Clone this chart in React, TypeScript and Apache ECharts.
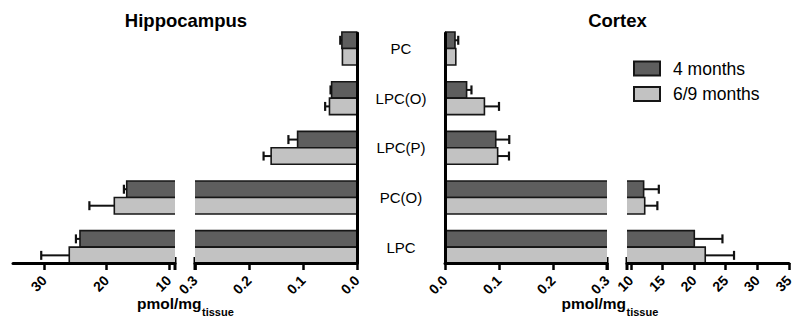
import React, { useEffect, useRef } from "react";
import * as echarts from "echarts";

// ---- data ----
const categories = ["PC", "LPC(O)", "LPC(P)", "PC(O)", "LPC"];
const seriesNames = ["4 months", "6/9 months"];
const panelTitles = ["Hippocampus", "Cortex"];

const hippo4 = [0.028, 0.047, 0.11, 16.75, 24.25];
const hippo4Err = [0.003, 0.002, 0.017, 0.45, 0.65];
const hippo69 = [0.027, 0.051, 0.159, 18.74, 25.97];
const hippo69Err = [0, 0.008, 0.014, 4.0, 4.5];

const cortex4 = [0.0185, 0.04, 0.094, 12.03, 20.04];
const cortex4Err = [0.006, 0.009, 0.025, 2.4, 4.45];
const cortex69 = [0.02, 0.073, 0.0975, 12.2, 21.77];
const cortex69Err = [0, 0.027, 0.021, 2.0, 4.55];

const nearTicks = [0, 0.1, 0.2, 0.3];
const hippoFarTicks = [10, 20, 30];
const cortexFarTicks = [10, 15, 20, 25, 30, 35];

// ---- styling / layout ----
const FONT = "'Liberation Sans', Arial, Helvetica, sans-serif";
const NEAR_MAX = 0.3;
const HIPPO_FAR_MIN = 9;
const CORTEX_FAR_MIN = 9.4;
const FAR_MAX = 35;
const Y_MIN = -0.3125;
const Y_MAX = 4.32;
const BAR_UNITS = 0.332;
const COLORS = ["#5e5e5e", "#c2c2c2"];
const EDGE = "#161616";
const GRID_TOP = 33;
const GRID_H = 230;

function renderBar(segMin: number, segMax: number, idx: number, color: string) {
  return (params: any, api: any) => {
    const val = api.value(0) as number;
    const cat = api.value(1) as number;
    const err = api.value(2) as number;
    const p0 = api.coord([segMin, cat]);
    const unit = api.size([0, 1])[1];
    const thick = unit * BAR_UNITS;
    const top = idx === 0 ? p0[1] - thick : p0[1];
    const bottom = top + thick;
    const clipped = val > segMax;
    const xa = p0[0];
    const xb = api.coord([Math.min(val, segMax), cat])[0];
    const children: any[] = [];
    children.push({
      type: "rect",
      shape: { x: Math.min(xa, xb), y: top, width: Math.abs(xb - xa), height: thick },
      style: { fill: color },
    });
    const stroke = { stroke: EDGE, lineWidth: 1.6, fill: null };
    if (clipped) {
      children.push({ type: "line", shape: { x1: xa, y1: top, x2: xb, y2: top }, style: stroke });
      children.push({ type: "line", shape: { x1: xa, y1: bottom, x2: xb, y2: bottom }, style: stroke });
    } else {
      children.push({
        type: "polyline",
        shape: { points: [[xa, top], [xb, top], [xb, bottom], [xa, bottom]] },
        style: stroke,
      });
      if (err > 0) {
        const xe = api.coord([val + err, cat])[0];
        const yc = (top + bottom) / 2;
        children.push({
          type: "line",
          shape: { x1: xb, y1: yc, x2: xe, y2: yc },
          style: { stroke: "#111", lineWidth: 2 },
        });
        children.push({
          type: "line",
          shape: { x1: xe, y1: yc - 4.5, x2: xe, y2: yc + 4.5 },
          style: { stroke: "#111", lineWidth: 2.2 },
        });
      }
    }
    return { type: "group", children };
  };
}

function seg(values: number[], errs: number[], near: boolean) {
  const out: any[] = [];
  values.forEach((v, i) => {
    if (near || v > NEAR_MAX) out.push([v, i, errs[i]]);
  });
  return out;
}

export default function App() {
  const ref = useRef<HTMLDivElement>(null);
  useEffect(() => {
    if (!ref.current) return;
    const chart = echarts.init(ref.current, null, { renderer: "svg" });

    const grids = [
      { left: 13, top: GRID_TOP, width: 162, height: GRID_H }, // hippo far
      { left: 195, top: GRID_TOP, width: 162, height: GRID_H }, // hippo near
      { left: 445, top: GRID_TOP, width: 162, height: GRID_H }, // cortex near
      { left: 627, top: GRID_TOP, width: 163, height: GRID_H }, // cortex far
    ];

    const axisLine = { onZero: false, lineStyle: { color: "#000", width: 3 } };
    const tickLabel = {
      rotate: 45,
      fontWeight: "bold" as const,
      fontSize: 14,
      color: "#000",
      fontFamily: FONT,
      margin: 15,
      hideOverlap: false,
    };
    const tick = { length: 7, lineStyle: { color: "#000", width: 2.5 } };

    const xAxes = [
      {
        gridIndex: 0, type: "value", min: HIPPO_FAR_MIN, max: FAR_MAX, inverse: true, z: 10,
        axisLine, splitLine: { show: false },
        axisTick: { ...tick, customValues: hippoFarTicks },
        axisLabel: { ...tickLabel, customValues: hippoFarTicks, formatter: (v: number) => String(v) },
      },
      {
        gridIndex: 1, type: "value", min: 0, max: NEAR_MAX, inverse: true, z: 10,
        axisLine, splitLine: { show: false },
        axisTick: { ...tick, customValues: nearTicks },
        axisLabel: { ...tickLabel, customValues: nearTicks, formatter: (v: number) => v.toFixed(1) },
      },
      {
        gridIndex: 2, type: "value", min: 0, max: NEAR_MAX, z: 10,
        axisLine, splitLine: { show: false },
        axisTick: { ...tick, customValues: nearTicks },
        axisLabel: { ...tickLabel, customValues: nearTicks, formatter: (v: number) => v.toFixed(1) },
      },
      {
        gridIndex: 3, type: "value", min: CORTEX_FAR_MIN, max: FAR_MAX, z: 10,
        axisLine, splitLine: { show: false },
        axisTick: { ...tick, customValues: cortexFarTicks },
        axisLabel: { ...tickLabel, customValues: cortexFarTicks, formatter: (v: number) => String(v) },
      },
    ];

    const catIdx = categories.map((_, i) => i);
    const yBase = { type: "value", min: Y_MIN, max: Y_MAX, inverse: true, splitLine: { show: false }, z: 10 };
    const yAxes = [
      { ...yBase, gridIndex: 0, show: false },
      {
        ...yBase, gridIndex: 1, position: "right",
        axisLine: { show: true, onZero: false, lineStyle: { color: "#000", width: 3 } },
        axisTick: { show: false },
        axisLabel: {
          customValues: catIdx,
          formatter: (v: number) => categories[Math.round(v)] ?? "",
          align: "center",
          margin: 44,
          fontSize: 15,
          color: "#000",
          fontFamily: FONT,
        },
      },
      {
        ...yBase, gridIndex: 2, position: "left",
        axisLine: { show: true, onZero: false, lineStyle: { color: "#000", width: 3 } },
        axisTick: { show: false },
        axisLabel: { show: false },
      },
      { ...yBase, gridIndex: 3, show: false },
    ];

    const panels = [
      { vals: [hippo4, hippo69], errs: [hippo4Err, hippo69Err], far: 0, near: 1, farMin: HIPPO_FAR_MIN },
      { vals: [cortex4, cortex69], errs: [cortex4Err, cortex69Err], far: 3, near: 2, farMin: CORTEX_FAR_MIN },
    ];
    const series: any[] = [];
    panels.forEach((p) => {
      [0, 1].forEach((k) => {
        series.push({
          type: "custom", name: seriesNames[k], xAxisIndex: p.near, yAxisIndex: p.near,
          encode: { x: 0, y: 1 }, itemStyle: { color: COLORS[k] }, z: 2,
          renderItem: renderBar(0, NEAR_MAX, k, COLORS[k]),
          data: seg(p.vals[k], p.errs[k], true),
        });
        series.push({
          type: "custom", name: seriesNames[k], xAxisIndex: p.far, yAxisIndex: p.far,
          encode: { x: 0, y: 1 }, itemStyle: { color: COLORS[k] }, z: 2,
          renderItem: renderBar(p.farMin, FAR_MAX, k, COLORS[k]),
          data: seg(p.vals[k], p.errs[k], false),
        });
      });
    });

    const texts: any[] = [
      { type: "text", x: 186, y: 20, style: { text: panelTitles[0], font: `bold 18.5px ${FONT}`, fill: "#000", align: "center", verticalAlign: "middle" } },
      { type: "text", x: 617.5, y: 20, style: { text: panelTitles[1], font: `bold 18.5px ${FONT}`, fill: "#000", align: "center", verticalAlign: "middle" } },
      { type: "text", x: 137, y: 303, style: { text: "pmol/mg", font: `bold 15.5px ${FONT}`, fill: "#000", align: "left", verticalAlign: "middle" } },
      { type: "text", x: 202, y: 312, style: { text: "tissue", font: `bold 11px ${FONT}`, fill: "#000", align: "left", verticalAlign: "middle" } },
      { type: "text", x: 561.5, y: 303, style: { text: "pmol/mg", font: `bold 15.5px ${FONT}`, fill: "#000", align: "left", verticalAlign: "middle" } },
      { type: "text", x: 626.5, y: 312, style: { text: "tissue", font: `bold 11px ${FONT}`, fill: "#000", align: "left", verticalAlign: "middle" } },
    ];

    chart.setOption({
      animation: false,
      textStyle: { fontFamily: FONT },
      grid: grids,
      xAxis: xAxes,
      yAxis: yAxes,
      legend: {
        orient: "vertical",
        left: 633,
        top: 59.5,
        itemWidth: 26,
        itemHeight: 14,
        itemGap: 7.5,
        padding: 0,
        selectedMode: false,
        textStyle: { fontSize: 17.5, color: "#000", fontFamily: FONT, padding: [0, 0, 0, 8] },
        data: seriesNames.map((n, k) => ({
          name: n,
          icon: "rect",
          itemStyle: { color: COLORS[k], borderColor: EDGE, borderWidth: 2 },
        })),
      },
      series,
      graphic: texts,
    });

    // break caps at segment ends
    const axisY = chart.convertToPixel({ yAxisIndex: 1 }, Y_MAX) as number;
    const capAt = (axisIndex: number, v: number) => {
      const x = chart.convertToPixel({ xAxisIndex: axisIndex }, v) as number;
      return { type: "line", shape: { x1: x, y1: axisY - 6, x2: x, y2: axisY + 7 }, style: { stroke: "#000", lineWidth: 3 } };
    };
    const caps = [
      capAt(0, HIPPO_FAR_MIN),
      capAt(1, NEAR_MAX),
      capAt(2, NEAR_MAX),
      capAt(3, CORTEX_FAR_MIN),
    ];
    chart.setOption({ graphic: [...texts, ...caps] });

    return () => chart.dispose();
  }, []);
  return (
    <div
      ref={ref}
      style={{ position: "absolute", left: 0, top: 0, width: 796, height: 326 }}
    />
  );
}
